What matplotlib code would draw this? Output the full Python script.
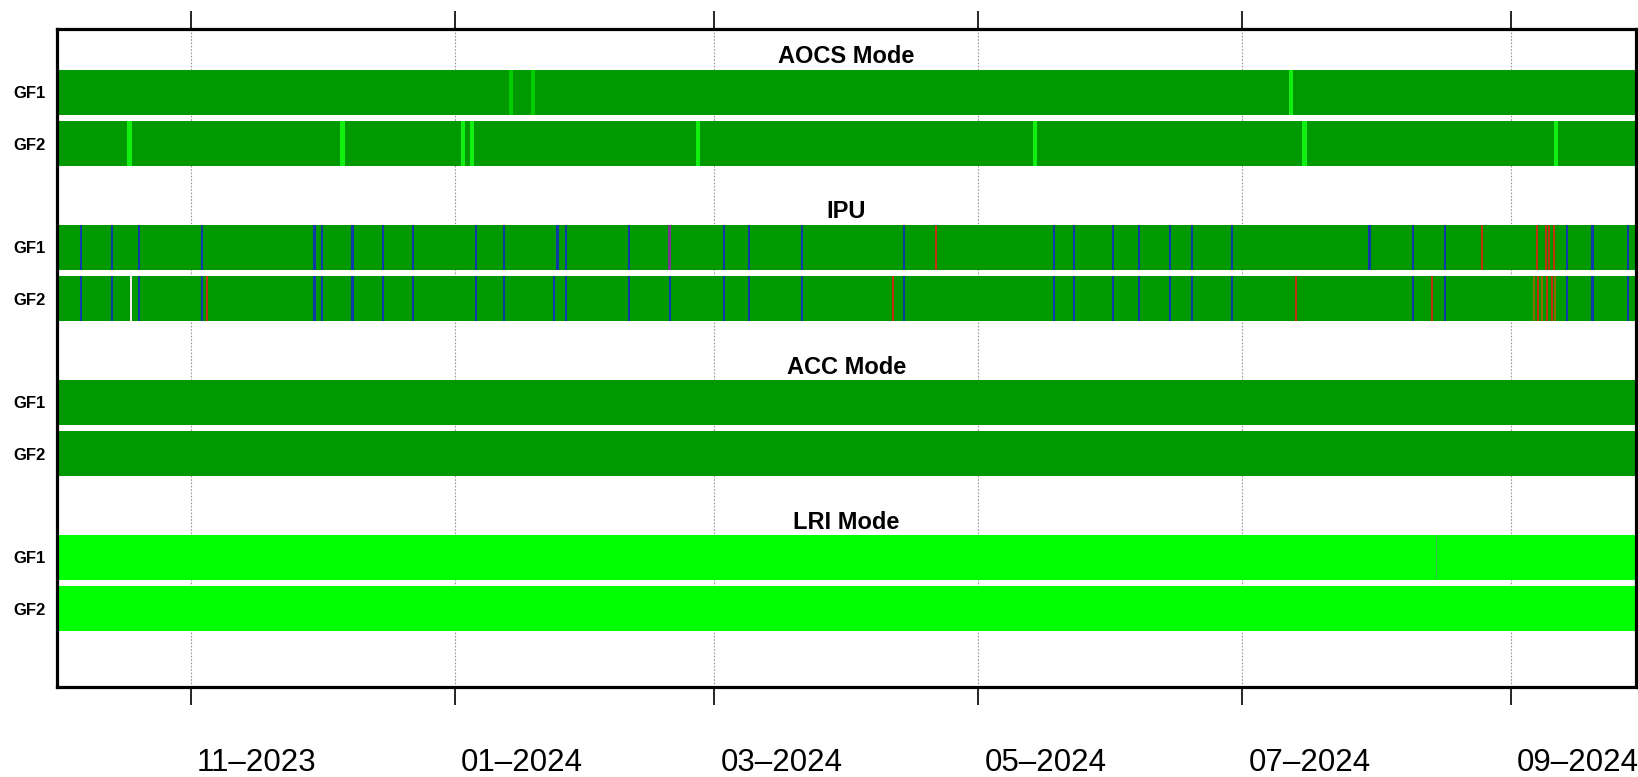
import matplotlib
matplotlib.use("Agg")
import matplotlib.pyplot as plt
import matplotlib.dates as mdates
import matplotlib.transforms as mtransforms
import pandas as pd

# time range and month ticks
t_start = "2023-10-01"
t_end = "2024-09-30"
tick_dates = ["2023-11-01", "2024-01-01", "2024-03-01", "2024-05-01", "2024-07-01", "2024-09-01"]
tick_labels = ["11–2023", "01–2024", "03–2024", "05–2024", "07–2024", "09–2024"]

panels = ["AOCS Mode", "IPU", "ACC Mode", "LRI Mode"]
sats = ["GF1", "GF2"]
base_color = ["#009900", "#009900", "#009900", "#00FF00"]

# state changes (time, state) per panel / satellite
aocs_gf1_t = ["2024-01-14 00:00", "2024-01-19 02:00", "2024-07-12 07:00"]
aocs_gf1_s = ["mid", "mid", "lime"]
aocs_gf2_t = ["2023-10-17 19:00", "2023-12-06 02:00", "2024-01-02 22:00", "2024-01-05 00:00",
              "2024-02-26 05:00", "2024-05-14 02:00", "2024-07-15 10:00", "2024-09-11 14:00"]
aocs_gf2_s = ["lime"] * 8

ipu_gf1_t = ["2023-10-06 17:00", "2023-10-13 19:00", "2023-10-20 02:00", "2023-11-03 12:00",
             "2023-11-29 14:00", "2023-12-01 09:00", "2023-12-08 09:00", "2023-12-15 10:00",
             "2023-12-22 08:00", "2024-01-06 00:00", "2024-01-12 07:00", "2024-01-24 18:00",
             "2024-01-26 19:00", "2024-02-10 06:00", "2024-02-19 14:00", "2024-03-03 05:00",
             "2024-03-09 01:00", "2024-03-21 07:00", "2024-04-13 18:00", "2024-04-21 06:00",
             "2024-05-18 12:00", "2024-05-23 05:00", "2024-06-01 01:00", "2024-06-07 01:00",
             "2024-06-14 09:00", "2024-06-19 11:00", "2024-06-28 17:00", "2024-07-30 10:00",
             "2024-08-09 12:00", "2024-08-16 19:00", "2024-08-25 12:00", "2024-09-07 05:00",
             "2024-09-09 05:00", "2024-09-09 19:00", "2024-09-11 02:00", "2024-09-14 01:00",
             "2024-09-19 23:00", "2024-09-28 05:00"]
ipu_gf1_s = (["blue"] * 14 + ["purple"] + ["blue"] * 4 + ["red"] + ["blue"] * 10
             + ["red"] * 5 + ["blue"] * 3)

ipu_gf2_t = ["2023-10-06 17:00", "2023-10-13 19:00", "2023-10-18 06:00", "2023-10-20 02:00",
             "2023-11-03 12:00", "2023-11-04 20:00", "2023-11-29 14:00", "2023-12-01 09:00",
             "2023-12-08 09:00", "2023-12-15 10:00", "2023-12-22 08:00", "2024-01-06 00:00",
             "2024-01-12 07:00", "2024-01-23 23:00", "2024-01-26 19:00", "2024-02-10 06:00",
             "2024-02-19 19:00", "2024-03-03 05:00", "2024-03-09 01:00", "2024-03-21 07:00",
             "2024-04-11 06:00", "2024-04-13 18:00", "2024-05-18 12:00", "2024-05-23 05:00",
             "2024-06-01 01:00", "2024-06-07 01:00", "2024-06-14 09:00", "2024-06-19 11:00",
             "2024-06-28 17:00", "2024-07-13 11:00", "2024-08-09 12:00", "2024-08-13 19:00",
             "2024-08-16 19:00", "2024-09-06 09:00", "2024-09-07 10:00", "2024-09-08 06:00",
             "2024-09-09 11:00", "2024-09-10 14:00", "2024-09-11 05:00", "2024-09-14 01:00",
             "2024-09-19 23:00", "2024-09-28 05:00"]
ipu_gf2_s = (["blue", "blue", "white", "blue", "blue", "red"] + ["blue"] * 14 + ["red", "blue"]
             + ["blue"] * 7 + ["red", "blue", "red", "blue"]
             + ["olive", "red", "olive", "red", "red", "olive"] + ["blue"] * 3)

acc_gf1_t, acc_gf1_s = [], []
acc_gf2_t, acc_gf2_s = [], []
lri_gf1_t, lri_gf1_s = ["2024-08-14 22:00"], ["faint"]
lri_gf2_t, lri_gf2_s = [], []

events = [
    [(aocs_gf1_t, aocs_gf1_s), (aocs_gf2_t, aocs_gf2_s)],
    [(ipu_gf1_t, ipu_gf1_s), (ipu_gf2_t, ipu_gf2_s)],
    [(acc_gf1_t, acc_gf1_s), (acc_gf2_t, acc_gf2_s)],
    [(lri_gf1_t, lri_gf1_s), (lri_gf2_t, lri_gf2_s)],
]

state_color = {"lime": "#12F012", "mid": "#00CC00", "blue": "#1038A8", "red": "#C03010",
               "purple": "#7A3590", "white": "#EEEEEE", "olive": "#8A6A00", "faint": "#2EC050"}
state_width = {"lime": 1.0, "mid": 0.8, "blue": 0.5, "red": 0.45, "purple": 0.6,
               "white": 0.4, "olive": 0.45, "faint": 0.25}

W, H = 1638, 777
fig = plt.figure(figsize=(W / 100, H / 100), dpi=100)
ax = fig.add_axes([56.7 / W, 1 - 687 / H, (1636 - 56.7) / W, 658 / H])

x0 = mdates.date2num(pd.Timestamp(t_start))
x1 = mdates.date2num(pd.Timestamp(t_end))
bar_h = 0.87
font = ["Liberation Sans", "DejaVu Sans"]

ytick_pos, ytick_lab = [], []
for p, name in enumerate(panels):
    for r, sat in enumerate(sats):
        y = 3 * p + 1.22 + r
        ax.barh(y, x1 - x0, left=x0, height=bar_h, color=base_color[p], linewidth=0)
        times, states = events[p][r]
        if times:
            xs = mdates.date2num(pd.to_datetime(times))
            for xc, s in zip(xs, states):
                w = state_width[s]
                ax.barh(y, w, left=xc - w / 2, height=bar_h, color=state_color[s], linewidth=0)
        ytick_pos.append(y)
        ytick_lab.append(sat)
    # panel title above its two rows
    ax.text(0.5, 3 * p + 1.22 - 0.68, name, transform=ax.get_yaxis_transform(),
            ha="center", va="center", fontsize=17, fontweight="bold", family=font)

ax.set_xlim(x0, x1)
ax.set_ylim(12.73, 0)

ax.set_yticks(ytick_pos)
ax.set_yticklabels(ytick_lab, fontsize=12, fontweight="bold", family=font)
ax.tick_params(axis="y", length=0, pad=8)

ax.set_xticks(mdates.date2num(pd.to_datetime(tick_dates)))
ax.set_xticklabels(tick_labels, fontsize=22.5, family=font)
ax.tick_params(axis="x", top=True, bottom=True, direction="out", length=13, width=1.2, pad=31)
# labels start just right of their tick
shift = mtransforms.ScaledTranslation(6 / 100, 0, fig.dpi_scale_trans)
for lab in ax.get_xticklabels():
    lab.set_horizontalalignment("left")
    lab.set_transform(lab.get_transform() + shift)

ax.grid(axis="x", color="#999999", linestyle=(0, (1.5, 1.5)), linewidth=0.8)
ax.set_axisbelow(True)

for sp in ax.spines.values():
    sp.set_linewidth(2.3)

fig.savefig("out.png", dpi=100)
